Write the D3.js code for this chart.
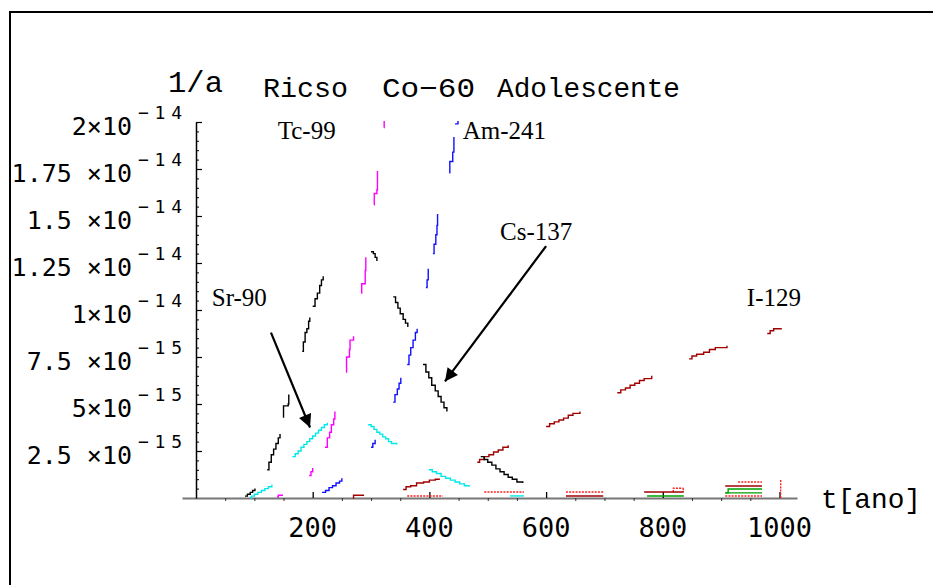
<!DOCTYPE html>
<html><head><meta charset="utf-8">
<script src="https://cdn.jsdelivr.net/npm/d3@7"></script>
<style>body{margin:0;background:#fff}svg{display:block}</style>
</head><body><svg id="c" width="933" height="585"></svg>
<script>
// ---------- data (t in years, values in units of 1e-15 1/a) ----------
const xMajorTicks = [200, 400, 600, 800, 1000];
const xMinorTicks = [50, 100, 150, 250, 300, 350, 450, 500, 550, 650, 700, 750, 850, 900, 950];
const yMajorTicks = [2.5, 5, 7.5, 10, 12.5, 15, 17.5, 20];
const yMinorTicks = [0.5,1,1.5,2,3,3.5,4,4.5,5.5,6,6.5,7,8,8.5,9,9.5,10.5,11,11.5,12,13,13.5,14,14.5,15.5,16,16.5,17,18,18.5,19,19.5];
const yTickMain = ["2.5 ×10", "5×10", "7.5 ×10", "1×10", "1.25 ×10", "1.5 ×10", "1.75 ×10", "2×10"];
const yTickExp  = ["−15", "−15", "−15", "−14", "−14", "−14", "−14", "−14"];

// Cs-137 (black)
const cs137 = [
  [[84,0.1],[88,0.2],[93,0.3],[97,0.4],[101,0.5]],
  [[122,1.5],[125,1.9],[129,2.3],[133,2.6],[137,2.9],[141,3.2],[144,3.4]],
  [[149,4.3],[150,4.9],[158,5.0],[159,5.5]],
  [[182,7.8],[184,8.3],[187,8.8],[190,9.0],[193,9.4],[195,9.6]],
  [[200,10.2],[204,10.6],[208,10.9],[212,11.3],[215,11.6],[218,11.8]],
  [[300,13.1],[304,13.0],[307,12.8],[310,12.6]],
  [[338,10.7],[342,10.4],[346,10.1],[350,9.8],[355,9.5],[359,9.3],[363,9.1]],
  [[389,7.1],[394,6.7],[399,6.4],[404,6.0],[410,5.7],[415,5.4],[420,5.1],[425,4.8],[430,4.6]],
  [[488,2.2],[494,2.05],[500,1.9],[507,1.75],[514,1.55],[521,1.4],[528,1.25],[535,1.1],[542,1.0],[550,0.85],[560,0.8]]
];
// Tc-99 (magenta)
const tc99 = [
  [[322,19.7],[322.5,20.2]],
  [[305,15.6],[305.5,16.2],[310,16.4],[311,17.4]],
  [[283,10.9],[284,11.4],[290,12.1],[291,12.8]],
  [[257,6.7],[258,7.5],[263,7.9],[264,8.4],[270,8.6]],
  [[221,2.7],[225,3.2],[229,3.5],[232,3.9],[236,4.2],[238,4.6]],
  [[194,1.2],[197,1.4],[200,1.6]],
  [[139,0.05],[141,0.15],[149,0.15]]
];
// Am-241 (blue)
const am241 = [
  [[444,19.9],[449,20.2]],
  [[434,17.3],[435,17.9],[440,18.4],[442,19.2]],
  [[406,13.0],[408,13.5],[411,14.0],[413,14.5],[414,15.1]],
  [[394,11.2],[396,11.6],[398,12.2]],
  [[362,7.1],[365,7.6],[368,8.0],[372,8.4],[376,8.8],[379,9.0]],
  [[338,5.1],[341,5.5],[345,5.8],[348,6.1],[351,6.4]],
  [[300,2.7],[303,2.9],[307,3.1]],
  [[216,0.3],[222,0.4],[228,0.55],[234,0.65],[240,0.8],[246,0.9],[250,1.05]]
];
// Sr-90 (cyan)
const sr90 = [
  [[93,0.0],[95,0.1],[100,0.2],[106,0.3],[112,0.4],[118,0.5],[124,0.6],[130,0.7]],
  [[165,2.2],[170,2.35],[175,2.5],[180,2.7],[185,2.85],[190,3.0],[195,3.15],[200,3.3],[205,3.45],[210,3.6],[215,3.75],[220,3.9],[225,4.0]],
  [[295,3.9],[300,3.8],[305,3.65],[310,3.5],[315,3.4],[320,3.25],[325,3.15],[330,3.0],[335,2.9],[344,2.85]],
  [[399,1.5],[405,1.4],[412,1.3],[420,1.15],[428,1.05],[436,0.95],[444,0.85],[452,0.75],[460,0.65],[468,0.6]],
  [[538,0.11],[562,0.11]]
];
// I-129 (dark red)
const i129 = [
  [[269,0.0],[270,0.15],[288,0.15]],
  [[355,0.45],[360,0.6],[368,0.65],[378,0.8],[390,0.85],[400,0.95],[410,1.0],[418,1.0]],
  [[482,1.9],[486,2.05],[494,2.2],[502,2.3],[510,2.45],[518,2.55],[526,2.7],[535,2.8]],
  [[600,3.8],[606,3.95],[614,4.05],[622,4.15],[630,4.25],[638,4.4],[646,4.5],[658,4.6]],
  [[722,5.6],[728,5.75],[736,5.85],[744,6.0],[752,6.1],[760,6.25],[768,6.35],[781,6.5]],
  [[845,7.4],[850,7.55],[858,7.65],[870,7.75],[880,7.9],[890,8.0],[910,8.1]],
  [[979,8.75],[984,8.9],[990,9.0],[1004,9.0]],
  [[634,0.11],[698,0.11]],
  [[768,0.32],[836,0.32]],
  [[907,0.64],[970,0.64]]
];
// other red series
const redSeries = [
  [[362,0.11],[423,0.11]],
  [[494,0.32],[562,0.32]],
  [[634,0.32],[698,0.32]],
  [[818,0.32],[818,0.52],[835,0.52],[835,0.32]],
  [[929,0.85],[970,0.85]],
  [[907,0.11],[970,0.11]],
  [[1002,0.0],[1002,1.0]]
];
// other green series
const greenSeries = [
  [[773,0.11],[836,0.11]],
  [[907,0.27],[970,0.27]],
  [[907,0.27],[912,0.27],[912,0.48],[970,0.48]]
];

const labels = [
  {text: "Tc-99",  t: 140, v: 19.1},
  {text: "Am-241", t: 457, v: 19.1},
  {text: "Cs-137", t: 521, v: 13.7},
  {text: "Sr-90",  t: 27,  v: 10.2},
  {text: "I-129",  t: 944, v: 10.2}
];
const arrows = [
  {from: [128.5, 8.8], to: [195.4, 3.75]},
  {from: [600, 13.4], to: [426.7, 6.2]}
];

// ---------- drawing ----------
const svg = d3.select("#c");
const x = d3.scaleLinear().domain([0, 1000]).range([196, 779.5]);
const y = d3.scaleLinear().domain([0, 20]).range([498, 122]);

// frame
svg.append("path").attr("d", "M10,586V12H934").attr("fill", "none").attr("stroke", "#000").attr("stroke-width", 2);

// x axis (extended domain line)
const xa = x.copy().domain([-24, 1030]).range([x(-24), x(1030)]);
svg.append("g").attr("transform", "translate(0,498)")
  .call(d3.axisBottom(xa).tickValues(xMajorTicks).tickFormat("").tickSizeInner(-6).tickSizeOuter(0))
  .call(g => g.select(".domain").attr("stroke", "#777").attr("stroke-width", 2))
  .call(g => g.selectAll(".tick line").attr("stroke", "#000").attr("stroke-width", 1.3).attr("y2", -6));
svg.append("g").attr("transform", "translate(0,498)")
  .call(d3.axisBottom(xa).tickValues(xMinorTicks).tickFormat("").tickSizeInner(3).tickSizeOuter(0))
  .call(g => g.select(".domain").remove())
  .call(g => g.selectAll(".tick line").attr("stroke", "#333").attr("stroke-width", 1));

svg.append("g").selectAll("text").data(xMajorTicks).join("text")
  .attr("x", d => x(d)).attr("y", 537)
  .attr("text-anchor", "middle")
  .attr("font-family", "DejaVu Sans Mono").attr("font-size", 27)
  .text(d => d);

// y axis
svg.append("g").attr("transform", "translate(196,0)")
  .call(d3.axisRight(y).tickValues(yMajorTicks).tickFormat("").tickSizeInner(6).tickSizeOuter(0))
  .call(g => g.select(".domain").attr("stroke", "#000").attr("stroke-width", 1.5))
  .call(g => g.selectAll(".tick line").attr("stroke-width", 1.2));
svg.append("g").attr("transform", "translate(196,0)")
  .call(d3.axisRight(y).tickValues(yMinorTicks).tickFormat("").tickSizeInner(3).tickSizeOuter(0))
  .call(g => g.select(".domain").remove())
  .call(g => g.selectAll(".tick line").attr("stroke-width", 1));

const yl = svg.append("g");
yl.selectAll("text.m").data(yMajorTicks).join("text").attr("class", "m")
  .attr("x", 132).attr("y", d => y(d) + 13)
  .attr("text-anchor", "end")
  .attr("font-family", "DejaVu Sans Mono").attr("font-size", 25)
  .text((d, i) => yTickMain[i]);
yl.selectAll("text.e").data(yMajorTicks).join("text").attr("class", "e")
  .attr("x", 138).attr("y", d => y(d) - 3)
  .attr("font-family", "DejaVu Sans Mono").attr("font-size", 18)
  .attr("textLength", 44).attr("lengthAdjust", "spacing")
  .text((d, i) => yTickExp[i]);

// titles
const mono = "Liberation Mono";
svg.append("text").attr("x", 168).attr("y", 92).attr("font-family", mono).attr("font-size", 29).attr("textLength", 55).attr("lengthAdjust", "spacingAndGlyphs").text("1/a");
svg.append("text").attr("x", 263).attr("y", 97).attr("font-family", mono).attr("font-size", 28).attr("textLength", 85).attr("lengthAdjust", "spacingAndGlyphs").text("Ricso");
svg.append("text").attr("x", 382).attr("y", 97).attr("font-family", mono).attr("font-size", 28).attr("textLength", 93).attr("lengthAdjust", "spacingAndGlyphs").text("Co−60");
svg.append("text").attr("x", 497).attr("y", 97).attr("font-family", mono).attr("font-size", 28).attr("textLength", 183).attr("lengthAdjust", "spacingAndGlyphs").text("Adolescente");
svg.append("text").attr("x", 821).attr("y", 508).attr("font-family", mono).attr("font-size", 28).attr("textLength", 100).attr("lengthAdjust", "spacingAndGlyphs").text("t[ano]");

// clip region
svg.append("clipPath").attr("id", "clip").append("rect").attr("x", 150).attr("y", 121).attr("width", 700).attr("height", 390);

const line = d3.line().x(d => x(d[0])).y(d => y(d[1])).curve(d3.curveStepAfter);
const groups = [
  {segs: redSeries, color: "#ff2020", dash: "2,1.2"},
  {segs: greenSeries, color: "#00a000", dash: null},
  {segs: i129, color: "#a00000", dash: null},
  {segs: sr90, color: "#00e8e8", dash: null},
  {segs: am241, color: "#1010ff", dash: null},
  {segs: tc99, color: "#ff00ff", dash: null},
  {segs: cs137, color: "#000000", dash: null}
];
const plot = svg.append("g").attr("clip-path", "url(#clip)");
groups.forEach(gr => {
  plot.append("g").selectAll("path").data(gr.segs).join("path")
    .attr("d", line).attr("fill", "none")
    .attr("stroke", gr.color).attr("stroke-width", 1.4)
    .attr("stroke-dasharray", gr.dash);
});

// annotations
svg.append("g").selectAll("text").data(labels).join("text")
  .attr("x", d => x(d.t)).attr("y", d => y(d.v))
  .attr("font-family", "Liberation Serif").attr("font-size", 25)
  .text(d => d.text);

svg.append("defs").append("marker").attr("id", "ah")
  .attr("viewBox", "0 0 10 10").attr("refX", 10).attr("refY", 5)
  .attr("markerWidth", 16).attr("markerHeight", 13).attr("orient", "auto")
  .attr("markerUnits", "userSpaceOnUse")
  .append("path").attr("d", "M0,0L10,5L0,10z").attr("fill", "#000");
svg.selectAll("line.arrow").data(arrows).join("line").attr("class", "arrow")
  .attr("x1", d => x(d.from[0])).attr("y1", d => y(d.from[1]))
  .attr("x2", d => x(d.to[0])).attr("y2", d => y(d.to[1]))
  .attr("stroke", "#000").attr("stroke-width", 2.2)
  .attr("marker-end", "url(#ah)");
</script></body></html>
